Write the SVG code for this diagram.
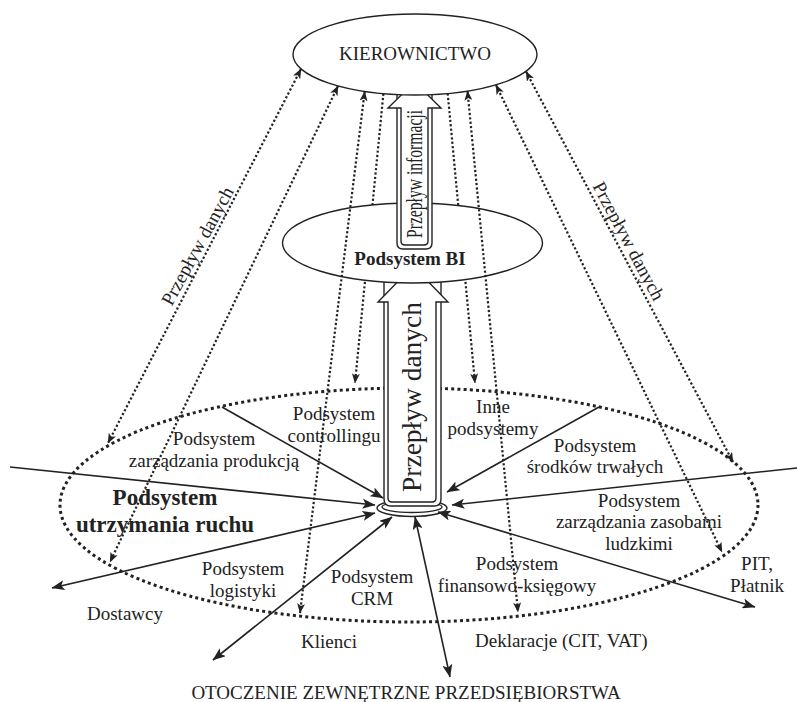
<svg xmlns="http://www.w3.org/2000/svg" width="797" height="702" viewBox="0 0 797 702">
<defs>
<style>
text{font-family:"Liberation Serif","Times New Roman",serif;font-size:19px;fill:#222}
.c{text-anchor:middle}
.b{font-weight:bold}
.ur{font-size:23px}
.sh{fill:#fff;stroke:#222;stroke-width:1.4}
.dot{fill:none;stroke:#222;stroke-width:2.2;stroke-dasharray:2.2 2.2}
.sol{fill:none;stroke:#222;stroke-width:1.6}
.big{fill:none;stroke:#222;stroke-width:3;stroke-dasharray:3 3.2}
</style>
<marker id="ad" viewBox="0 0 10 8" refX="9.5" refY="4" markerWidth="10" markerHeight="8" markerUnits="userSpaceOnUse" orient="auto-start-reverse"><path d="M0,0 L10,4 L0,8 L2.5,4 Z" fill="#222"/></marker>
<marker id="as" viewBox="0 0 13 10" refX="12.5" refY="5" markerWidth="13" markerHeight="10" markerUnits="userSpaceOnUse" orient="auto-start-reverse"><path d="M0,0 L13,5 L0,10 L3,5 Z" fill="#222"/></marker>
</defs>

<g id="organizacja">
<ellipse class="big" cx="409" cy="505" rx="349" ry="117"/>
</g>

<g id="connectors-hidden">
<line class="dot" x1="383.4" y1="93.6" x2="355" y2="383" marker-end="url(#ad)"/>
<line class="dot" x1="447.7" y1="93.5" x2="475" y2="383" marker-end="url(#ad)"/>
</g>

<g id="hub">
<ellipse class="sh" cx="412" cy="508" rx="35" ry="8.5"/>
<ellipse class="sh" cx="412" cy="507" rx="30" ry="5.5"/>
</g>

<g id="przeplyw-danych-pipe">
<path class="sh" d="M384,268 V499 Q384,506 391,506 H434 Q441,506 441,499 V268 Z"/>
<path class="sh" d="M388,498 V302 H378 L413,266 L448,302 H436 V498 Q436,502 432,502 H392 Q388,502 388,498 Z"/>
<text transform="translate(421,397) rotate(-90)" text-anchor="middle" style="font-size:27px" textLength="190" lengthAdjust="spacingAndGlyphs">Przepływ danych</text>
</g>

<g id="podsystem-bi">
<ellipse class="sh" cx="412.5" cy="243" rx="130" ry="40"/>
<text class="c b" x="410" y="265">Podsystem BI</text>
</g>

<g id="przeplyw-informacji-pipe">
<path class="sh" d="M397,80 V243 Q397,249 403,249 H426 Q432,249 432,243 V80 Z"/>
<path class="sh" d="M401,241 V108 H388 L414.5,82 L441,108 H428 V241 Q428,245 424,245 H405 Q401,245 401,241 Z"/>
<text transform="translate(422,174) rotate(-90)" text-anchor="middle" style="font-size:24px" textLength="128" lengthAdjust="spacingAndGlyphs">Przepływ informacji</text>
</g>

<g id="kierownictwo">
<ellipse class="sh" cx="415" cy="54.5" rx="122" ry="40.5"/>
<text class="c" x="415" y="60">KIEROWNICTWO</text>
</g>

<g id="connectors">
<line class="dot" x1="301" y1="69" x2="108" y2="443" marker-start="url(#ad)" marker-end="url(#ad)"/>
<line class="dot" x1="338" y1="86" x2="110" y2="562" marker-start="url(#ad)" marker-end="url(#ad)"/>
<line class="dot" x1="364.7" y1="91.5" x2="300" y2="613" marker-start="url(#ad)" marker-end="url(#ad)"/>
<line class="dot" x1="467.5" y1="91" x2="518" y2="612" marker-start="url(#ad)" marker-end="url(#ad)"/>
<line class="dot" x1="496" y1="85" x2="722" y2="552" marker-start="url(#ad)" marker-end="url(#ad)"/>
<line class="dot" x1="526" y1="71.5" x2="733" y2="462" marker-start="url(#ad)" marker-end="url(#ad)"/>
<text transform="translate(203,249) rotate(-61.5)" class="c">Przepływ danych</text>
<text transform="translate(623,244) rotate(62)" class="c">Przepływ danych</text>

<line class="sol" x1="10" y1="467" x2="375" y2="505" marker-end="url(#as)"/>
<line class="sol" x1="222" y1="407" x2="383" y2="498" marker-end="url(#as)"/>
<line class="sol" x1="599" y1="407" x2="447" y2="492" marker-end="url(#as)"/>
<line class="sol" x1="797" y1="468" x2="452" y2="505" marker-end="url(#as)"/>
<line class="sol" x1="375" y1="513" x2="52" y2="588" marker-start="url(#as)" marker-end="url(#as)"/>
<line class="sol" x1="392" y1="517" x2="213" y2="660" marker-start="url(#as)" marker-end="url(#as)"/>
<line class="sol" x1="415" y1="517" x2="450" y2="677" marker-start="url(#as)" marker-end="url(#as)"/>
<line class="sol" x1="438" y1="512" x2="755" y2="607" marker-start="url(#as)" marker-end="url(#as)"/>
</g>

<g id="ps-produkcja"><text class="c" x="214" y="445">Podsystem</text><text class="c" x="214" y="467">zarządzania produkcją</text></g>
<g id="ps-controlling"><text class="c" x="334" y="420">Podsystem</text><text class="c" x="334" y="442">controllingu</text></g>
<g id="ps-inne"><text class="c" x="493" y="413">Inne</text><text class="c" x="493" y="435">podsystemy</text></g>
<g id="ps-srodki"><text class="c" x="595" y="452">Podsystem</text><text class="c" x="595" y="473">środków trwałych</text></g>
<g id="ps-kadry"><text class="c" x="639" y="507">Podsystem</text><text class="c" x="639" y="528">zarządzania zasobami</text><text class="c" x="639" y="550">ludzkimi</text></g>
<g id="ps-fk"><text class="c" x="517" y="570">Podsystem</text><text class="c" x="517" y="592">finansowo-księgowy</text></g>
<g id="ps-crm"><text class="c" x="372" y="583">Podsystem</text><text class="c" x="372" y="605">CRM</text></g>
<g id="ps-logistyka"><text class="c" x="243" y="575">Podsystem</text><text class="c" x="243" y="597">logistyki</text></g>
<g id="ps-ur"><text class="c b ur" x="165" y="505">Podsystem</text><text class="c b ur" x="165" y="532">utrzymania ruchu</text></g>
<g id="pit"><text class="c" x="757" y="570">PIT,</text><text class="c" x="757" y="592">Płatnik</text></g>
<g id="dostawcy"><text class="c" x="125" y="620">Dostawcy</text></g>
<g id="klienci"><text class="c" x="329" y="648">Klienci</text></g>
<g id="deklaracje"><text x="475" y="647">Deklaracje (CIT, VAT)</text></g>
<g id="otoczenie"><text class="c" x="406" y="699">OTOCZENIE ZEWNĘTRZNE PRZEDSIĘBIORSTWA</text></g>
</svg>
